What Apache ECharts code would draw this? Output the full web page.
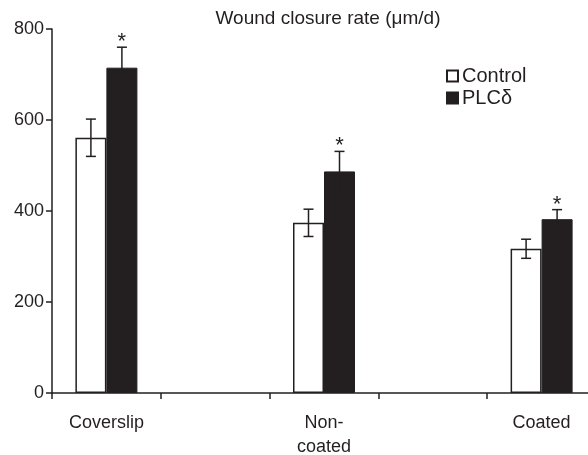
<!DOCTYPE html>
<html>
<head>
<meta charset="utf-8">
<script src="https://cdn.jsdelivr.net/npm/echarts@6/dist/echarts.min.js"></script>
<style>
  html, body { margin: 0; padding: 0; background: #fff; }
  #chart { width: 588px; height: 455px; }
</style>
</head>
<body>
<div id="chart"></div>
<script>
// Wound closure rate per substrate, control vs PLCδ
const categories = ['Coverslip', '', 'Non-\ncoated', '', 'Coated'];
const controlValues = [561, '-', 374, '-', 317];
const controlErrors = [41, null, 30, null, 21];
const plcValues = [715, '-', 487, '-', 382];
const plcErrors = [45, null, 44, null, 21];
const significance = ['*', '', '*', '', '*'];
const yTicks = { min: 0, max: 800, interval: 200 };

const INK = '#231f20';
const FONT = 'Liberation Sans, Arial, Helvetica, sans-serif';
const BAR_W = 31;

// error bar (with optional significance mark) drawn over a bar
function errorSeries(values, errors, offset, marks) {
  const data = values.map((v, i) => (v === '-' ? null : [i, v, errors[i], marks ? marks[i] : '']))
    .filter(d => d);
  return {
    type: 'custom',
    z: 10,
    data: data,
    encode: { x: 0, y: 1 },
    renderItem: function (params, api) {
      const i = api.value(0), v = api.value(1), e = api.value(2);
      const mark = data[params.dataIndex][3];
      const c = api.coord([i, v]);
      const x = c[0] + offset;
      const top = api.coord([i, v + e])[1];
      const bot = api.coord([i, v - e])[1];
      const cap = 5;
      const style = { stroke: INK, lineWidth: 1.5, fill: null };
      const children = [
        { type: 'line', shape: { x1: x, y1: top, x2: x, y2: bot }, style: style },
        { type: 'line', shape: { x1: x - cap, y1: top, x2: x + cap, y2: top }, style: style },
        { type: 'line', shape: { x1: x - cap, y1: bot, x2: x + cap, y2: bot }, style: style }
      ];
      if (mark) {
        children.push({
          type: 'text',
          style: { text: mark, x: x, y: top - 16, align: 'center', verticalAlign: 'top',
                   fill: INK, font: '22px ' + FONT }
        });
      }
      return { type: 'group', children: children };
    }
  };
}

const chart = echarts.init(document.getElementById('chart'), null, { renderer: 'canvas' });
chart.setOption({
  animation: false,
  backgroundColor: '#fff',
  textStyle: { fontFamily: FONT, color: INK },
  title: {
    text: 'Wound closure rate (μm/d)',
    left: 323, top: 4, textAlign: 'center',
    textStyle: { fontSize: 19, fontWeight: 'normal', color: INK, fontFamily: FONT }
  },
  legend: {
    orient: 'vertical',
    left: 441, top: 61,
    itemWidth: 11, itemHeight: 11, itemGap: 2,
    icon: 'rect',
    textStyle: { fontSize: 20, lineHeight: 20, color: INK, fontFamily: FONT, padding: [0, 0, 0, -1] },
    data: ['Control', 'PLCδ']
  },
  grid: { left: 52, width: 544, top: 29, bottom: 62, containLabel: false, outerBoundsMode: 'none' },
  xAxis: {
    type: 'category',
    data: categories,
    axisLine: { lineStyle: { color: INK, width: 1.5 } },
    axisTick: { show: true, length: 6, lineStyle: { color: INK, width: 1.5 } },
    axisLabel: { interval: 0, fontSize: 18, color: INK, margin: 18, lineHeight: 24, fontFamily: FONT }
  },
  yAxis: {
    type: 'value',
    min: yTicks.min, max: yTicks.max, interval: yTicks.interval,
    splitLine: { show: false },
    axisLine: { show: true, lineStyle: { color: INK, width: 1.5 } },
    axisTick: { show: true, length: 6, lineStyle: { color: INK, width: 1.5 } },
    axisLabel: { fontSize: 18, color: INK, margin: 8, fontFamily: FONT }
  },
  series: [
    {
      name: 'Control', type: 'bar', data: controlValues,
      barWidth: BAR_W, barGap: '0%',
      itemStyle: { color: '#fff', borderColor: INK, borderWidth: 1.5 }
    },
    {
      name: 'PLCδ', type: 'bar', data: plcValues,
      barWidth: BAR_W, barGap: '0%',
      itemStyle: { color: INK, borderColor: INK, borderWidth: 1 }
    },
    errorSeries(controlValues, controlErrors, -BAR_W / 2, null),
    errorSeries(plcValues, plcErrors, BAR_W / 2, significance)
  ]
});
</script>
</body>
</html>
